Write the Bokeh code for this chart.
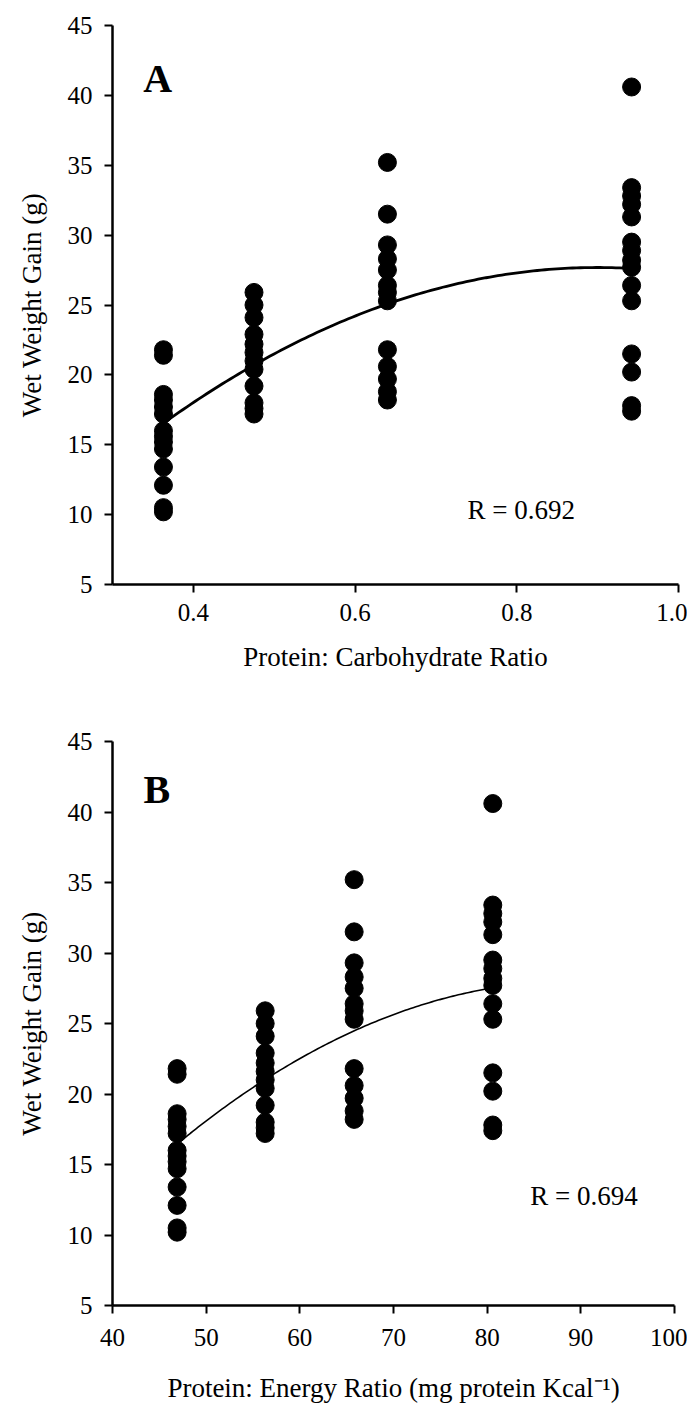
import numpy as np
from bokeh.plotting import figure
from bokeh.models import FixedTicker, Label
from bokeh.layouts import column
from bokeh.embed import file_html
from bokeh.resources import INLINE

# ---- data ----
pc_ratio_levels = [0.363, 0.475, 0.640, 0.942]      # panel A x (Protein:Carbohydrate)
pe_ratio_levels = [46.9, 56.3, 65.8, 80.6]          # panel B x (mg protein / kcal)

gain_diet1 = [21.8, 21.4, 18.6, 18.2, 17.7, 17.2, 16.0, 15.6, 15.2, 14.7, 13.4, 12.1, 10.5, 10.2]
gain_diet2 = [25.9, 25.0, 24.1, 22.9, 22.2, 21.6, 21.0, 20.4, 19.2, 18.0, 17.6, 17.2]
gain_diet3 = [35.2, 31.5, 29.3, 28.3, 27.5, 26.4, 25.9, 25.3, 21.8, 20.6, 19.7, 18.8, 18.2]
gain_diet4 = [40.6, 33.4, 32.8, 32.2, 31.3, 29.5, 28.9, 28.2, 27.7, 26.4, 25.3, 21.5, 20.2, 17.8, 17.4]
gain_groups = [gain_diet1, gain_diet2, gain_diet3, gain_diet4]

# fitted curves
fitA_x = [0.363, 0.475, 0.598, 0.640, 0.824, 0.942]
fitA_y = [16.5, 20.8, 24.1, 25.05, 27.5, 27.6]
fitB_x = [46.9, 55.5, 60.1, 65.9, 79.9, 80.6]
fitB_y = [16.5, 20.5, 22.7, 24.5, 27.46, 27.5]

A_ticks = [0.4, 0.6, 0.8, 1.0]
A_tick_labels = ["0.4", "0.6", "0.8", "1.0"]
B_ticks = [40, 50, 60, 70, 80, 90, 100]
y_ticks = [5, 10, 15, 20, 25, 30, 35, 40, 45]

FONT = "Liberation Serif"


def expand(levels):
    xs, ys = [], []
    for lv, grp in zip(levels, gain_groups):
        xs += [lv] * len(grp)
        ys += grp
    return xs, ys


def smooth(fx, fy):
    c = np.polyfit(fx, fy, 2)
    xx = np.linspace(min(fx), max(fx), 120)
    return xx, np.polyval(c, xx)


def style(p, xlabel):
    p.grid.visible = False
    p.outline_line_color = None
    p.background_fill_color = "white"
    p.border_fill_color = "white"
    for ax in p.axis:
        ax.axis_line_width = 2.5
        ax.axis_line_color = "black"
        ax.major_tick_line_width = 2
        ax.major_tick_line_color = "black"
        ax.major_tick_out = 8
        ax.major_tick_in = 0
        ax.minor_tick_out = 0
        ax.minor_tick_in = 0
        ax.major_label_text_font = FONT
        ax.major_label_text_font_size = "25px"
        ax.major_label_text_color = "black"
        ax.axis_label_text_font = FONT
        ax.axis_label_text_font_size = "27px"
        ax.axis_label_text_font_style = "normal"
        ax.axis_label_text_color = "black"
    p.yaxis.ticker = FixedTicker(ticks=y_ticks)
    p.yaxis.axis_label = "Wet Weight Gain (g)"
    p.yaxis.major_label_standoff = 12
    p.yaxis.axis_label_standoff = 18
    p.xaxis.axis_label = xlabel


# ---- panel A ----
pA = figure(frame_width=566, frame_height=559, x_range=(0.3, 1.0), y_range=(5, 45),
            output_backend="svg", toolbar_location=None,
            min_border_left=109, min_border_right=12, min_border_top=25, min_border_bottom=100)
xa, ya = expand(pc_ratio_levels)
pA.scatter(xa, ya, size=18, color="black")
cx, cy = smooth(fitA_x, fitA_y)
pA.line(cx, cy, line_width=2.8, color="black")
style(pA, "Protein: Carbohydrate Ratio")
pA.xaxis.major_label_standoff = 11
pA.xaxis.axis_label_standoff = 18
pA.xaxis.ticker = FixedTicker(ticks=A_ticks)
pA.xaxis.major_label_overrides = {t: l for t, l in zip(A_ticks, A_tick_labels)}
pA.add_layout(Label(x=0.338, y=41.2, text="A", text_font=FONT, text_font_style="bold",
                    text_font_size="40px", text_color="black", text_baseline="alphabetic"))
pA.add_layout(Label(x=0.739, y=10.3, text="R = 0.692", text_font=FONT,
                    text_font_size="27px", text_color="black", text_baseline="alphabetic"))

# ---- panel B ----
pB = figure(frame_width=562, frame_height=564, x_range=(40, 100), y_range=(5, 45),
            output_backend="svg", toolbar_location=None,
            min_border_left=112, min_border_right=13, min_border_top=57, min_border_bottom=100)
xb, yb = expand(pe_ratio_levels)
pB.scatter(xb, yb, size=18, color="black")
cx, cy = smooth(fitB_x, fitB_y)
pB.line(cx, cy, line_width=1.6, color="black")
style(pB, "Protein: Energy Ratio (mg protein Kcal\u207b\u00b9)")
pB.xaxis.major_label_standoff = 15
pB.xaxis.axis_label_standoff = 24
pB.xaxis.ticker = FixedTicker(ticks=B_ticks)
pB.add_layout(Label(x=43.3, y=41.6, text="B", text_font=FONT, text_font_style="bold",
                    text_font_size="40px", text_color="black", text_baseline="alphabetic"))
pB.add_layout(Label(x=84.6, y=12.8, text="R = 0.694", text_font=FONT,
                    text_font_size="27px", text_color="black", text_baseline="alphabetic"))

layout = column(pA, pB)
open("out.html", "w").write(file_html(layout, INLINE))
